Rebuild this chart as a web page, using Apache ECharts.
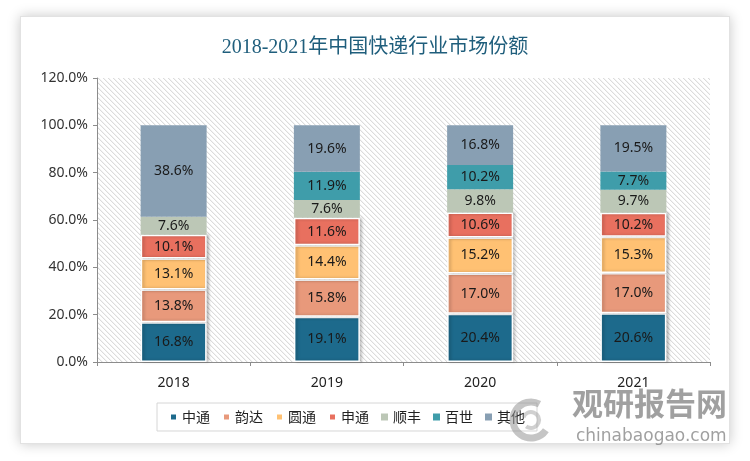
<!DOCTYPE html>
<html>
<head>
<meta charset="utf-8">
<script src="https://cdn.jsdelivr.net/npm/echarts@6/dist/echarts.min.js"></script>
<style>
html,body{margin:0;padding:0;background:#fff;}
#card{position:absolute;left:20px;top:16px;width:708px;height:426px;background:#fff;border:1px solid #e2e2e2;box-shadow:0 0 12px rgba(0,0,0,0.22);}
#main{position:absolute;left:0;top:0;width:750px;height:461px;}
</style>
</head>
<body>
<div id="card"></div>
<div id="main"></div>
<script>
const categories = ['2018', '2019', '2020', '2021'];
const seriesNames = ['中通', '韵达', '圆通', '申通', '顺丰', '百世', '其他'];
const zto   = [16.8, 19.1, 20.4, 20.6];
const yunda = [13.8, 15.8, 17.0, 17.0];
const yto   = [13.1, 14.4, 15.2, 15.3];
const sto   = [10.1, 11.6, 10.6, 10.2];
const sf    = [7.6, 7.6, 9.8, 9.7];
const best  = [null, 11.9, 10.2, 7.7];
const other = [38.6, 19.6, 16.8, 19.5];
const yTicks = [0, 20, 40, 60, 80, 100, 120];

const values = [zto, yunda, yto, sto, sf, best, other];
const colors = ['#1D6A8C', '#E8997B', '#FFC173', '#E8705F', '#BCC7B6', '#3F9DAA', '#889FB3'];

// hatch pattern
const pc = document.createElement('canvas');
pc.width = 5; pc.height = 5;
const ctx = pc.getContext('2d');
ctx.fillStyle = '#ffffff';
ctx.fillRect(0, 0, 5, 5);
ctx.fillStyle = '#dcdcdc';
for (let i = 0; i < 5; i++) ctx.fillRect(i, i, 1, 1);
ctx.fillStyle = '#f3f3f3';
for (let i = 0; i < 5; i++) ctx.fillRect((i + 1) % 5, i, 1, 1);

const chart = echarts.init(document.getElementById('main'), null, {renderer: 'canvas'});
const lowerCount = 4;
const series = seriesNames.map((n, i) => ({
  name: n,
  type: 'bar',
  stack: 'total',
  barWidth: 66,
  data: values[i],
  itemStyle: i < lowerCount ? {
    color: colors[i], borderColor: '#ffffff', borderWidth: 1.5,
    shadowColor: 'rgba(0,0,0,0.25)', shadowBlur: 3, shadowOffsetX: 2, shadowOffsetY: 0
  } : { color: colors[i] },
  label: {
    show: true,
    position: 'inside',
    color: '#1a1a1a',
    fontSize: 14,
    fontFamily: 'Noto Sans, sans-serif',
    formatter: p => (p.value == null ? '' : p.value.toFixed(1) + '%')
  }
}));

chart.setOption({
  animation: false,
  backgroundColor: 'transparent',
  title: {
    text: '2018-2021年中国快递行业市场份额',
    left: 'center',
    top: 33,
    textStyle: {
      color: '#1F5E7C',
      fontSize: 20,
      fontWeight: 'normal',
      fontFamily: "'Liberation Serif', 'Noto Sans CJK SC', serif"
    }
  },
  legend: {
    data: seriesNames,
    left: 157,
    top: 403,
    padding: [7, 12, 7, 12],
    borderColor: '#d6d6d6',
    borderWidth: 1,
    itemWidth: 7,
    itemHeight: 7,
    itemGap: 12,
    icon: 'rect',
    textStyle: { fontSize: 14, color: '#222', fontFamily: "'Noto Sans CJK SC', sans-serif" }
  },
  grid: {
    left: 97, right: 40, top: 78, bottom: 99,
    show: true,
    borderWidth: 0,
    backgroundColor: { image: pc, repeat: 'repeat' }
  },
  xAxis: {
    type: 'category',
    data: categories,
    axisLine: { lineStyle: { color: '#8c8c8c', width: 1 } },
    axisTick: { show: true, length: 4, lineStyle: { color: '#8c8c8c' } },
    axisLabel: { fontSize: 14, color: '#222', margin: 14, fontFamily: 'Noto Sans, sans-serif' }
  },
  yAxis: {
    type: 'value',
    min: yTicks[0],
    max: yTicks[yTicks.length - 1],
    interval: 20,
    axisLine: { show: true, lineStyle: { color: '#8c8c8c', width: 1 } },
    axisTick: { show: true, length: 4, lineStyle: { color: '#8c8c8c' } },
    splitLine: { show: false },
    axisLabel: { fontSize: 14, color: '#333', margin: 9, fontFamily: 'Noto Sans, sans-serif',
      formatter: v => v.toFixed(1) + '%' }
  },
  graphic: [
    { type: 'arc', shape: { cx: 531, cy: 420, r: 18, startAngle: 0.6, endAngle: 5.2 },
      style: { stroke: 'rgba(150,150,150,0.55)', lineWidth: 7, fill: null }, z: 100 },
    { type: 'arc', shape: { cx: 531, cy: 420, r: 8, startAngle: 3.5, endAngle: 8.5 },
      style: { stroke: 'rgba(150,150,150,0.45)', lineWidth: 4, fill: null }, z: 100 },
    { type: 'text', left: 572, top: 388, z: 100,
      style: { text: '观研报告网', fill: 'rgba(120,120,120,0.7)', fontSize: 31, fontWeight: 'bold',
        fontFamily: "'Noto Sans CJK SC', sans-serif" } },
    { type: 'text', left: 576, top: 428, z: 100,
      style: { text: 'chinabaogao.com', fill: 'rgba(120,120,120,0.7)', fontSize: 17,
        fontFamily: "'DejaVu Sans', sans-serif" } }
  ],
  series: series
});
</script>
</body>
</html>
